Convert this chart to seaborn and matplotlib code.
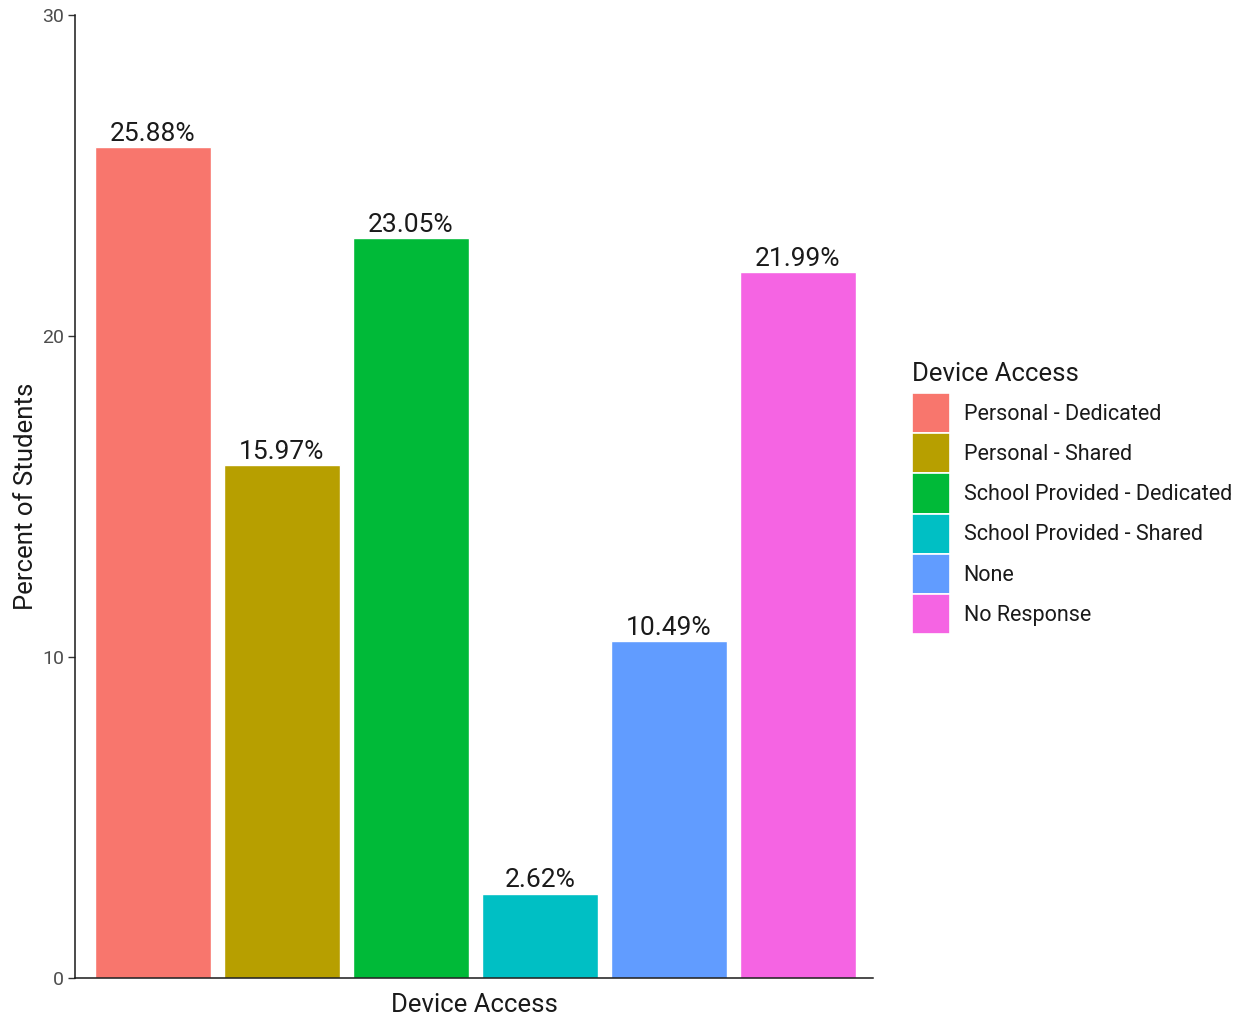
import matplotlib
matplotlib.use("Agg")
import matplotlib.pyplot as plt
from matplotlib.patches import Patch
import pandas as pd
import seaborn as sns

# --- data ---
categories = ["Personal - Dedicated", "Personal - Shared", "School Provided - Dedicated",
              "School Provided - Shared", "None", "No Response"]
percents = [25.88, 15.97, 23.05, 2.62, 10.49, 21.99]
colors = ["#F8766D", "#B79F00", "#00BA38", "#00BFC4", "#619CFF", "#F564E3"]
y_ticks = [0, 10, 20, 30]

df = pd.DataFrame({"group": ["Device Access"] * len(categories),
                   "access": categories,
                   "pct": percents})

sns.set_theme(style="white")
plt.rcParams["font.family"] = ["Roboto", "DejaVu Sans"]

fig = plt.figure(figsize=(12.46, 10.30), dpi=100)
ax = fig.add_axes([0.0602, 0.0505, 0.6404, 0.9349])

sns.barplot(data=df, x="group", y="pct", hue="access", hue_order=categories,
            palette=colors, width=0.8, gap=0.1, saturation=1, legend=False, ax=ax)

# --- value labels above each bar ---
for bar, val in zip(ax.patches, percents):
    ax.annotate(f"{val:.2f}%", (bar.get_x() + bar.get_width() / 2, bar.get_height()),
                xytext=(0, 1), textcoords="offset points", ha="center", va="bottom",
                fontsize=19, color="#1a1a1a")

# --- axes styling ---
ax.set_xlim(-0.414, 0.411)
ax.set_ylim(0, 30)
ax.set_yticks(y_ticks)
ax.set_xticks([])
ax.tick_params(axis="y", left=True, length=5, width=1, color="#333333",
               labelsize=14, labelcolor="#4D4D4D", pad=3)
for side in ["top", "right"]:
    ax.spines[side].set_visible(False)
for side in ["left", "bottom"]:
    ax.spines[side].set_color("#1a1a1a")
    ax.spines[side].set_linewidth(1.1)
ax.set_xlabel("Device Access", fontsize=18.5, color="#1a1a1a", labelpad=11)
ax.set_ylabel("Percent of Students", fontsize=18.5, color="#1a1a1a", labelpad=3)

# --- legend ---
handles = [Patch(facecolor=c, edgecolor="white", linewidth=1.2) for c in colors]
leg = fig.legend(handles, categories, title="Device Access", loc="upper left",
                 bbox_to_anchor=(912 / 1246, 1 - 362 / 1030), frameon=False,
                 fontsize=15.5, title_fontsize=18.5, borderpad=0, borderaxespad=0,
                 handlelength=1.75, handleheight=2.5, labelspacing=0.0,
                 handletextpad=0.65)
leg._legend_box.align = "left"
leg._legend_box.sep = 5
for t in leg.get_texts():
    t.set_color("#1a1a1a")
leg.get_title().set_color("#1a1a1a")

fig.savefig("out.png", dpi=100)
